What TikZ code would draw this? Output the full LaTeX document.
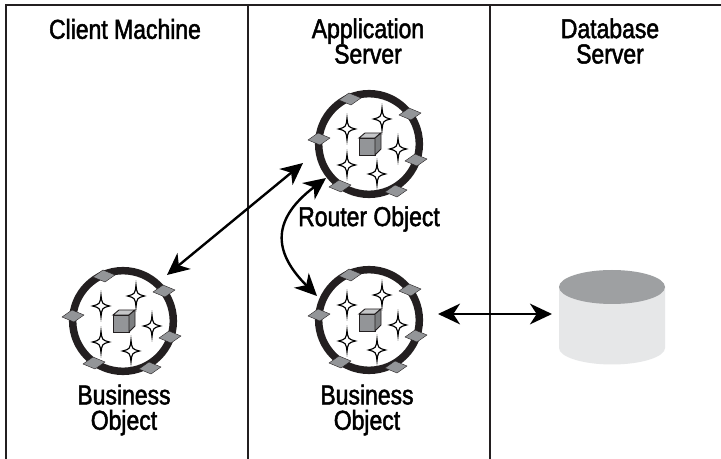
\documentclass[tikz,border=0pt]{standalone}
\usepackage{fontspec}
\setmainfont[FakeStretch=0.84,FakeBold=1.8]{Liberation Sans}
\usetikzlibrary{arrows.meta}
\definecolor{ringc}{HTML}{231F20}
\definecolor{dgrey}{HTML}{939598}
\definecolor{lgrey}{HTML}{E6E7E8}
\tikzset{
  x=0.75pt,y=-0.75pt,
  frameline/.style={draw=ringc,line width=1.5pt},
  lbl/.style={font=\fontsize{20.5}{19}\selectfont,align=center,text=black,inner sep=0pt},
  link/.style={draw=black,line width=1.8pt,{Stealth[length=16.5pt,width=15.5pt,inset=5pt]}-{Stealth[length=16.5pt,width=15.5pt,inset=5pt]}},
  objring/.style={circle,draw=ringc,line width=5.6pt,minimum size=75.5pt,inner sep=0pt,fill=white},
  port/.style={fill=dgrey,draw=ringc,line width=0.3pt},
  spark/.style={fill=white,draw=black,line width=0.85pt,line join=miter},
  objpic/.pic={
    \node[objring] (-ring) at (0,0) {};
    \foreach \a/\b in {-19/-45,41/-30,47/16,27/47,-29/42,-50/-5}{
      \path[port] (\a-11,\b+1) -- (\a-1,\b-6) -- (\a+11,\b-1) -- (\a+1,\b+6) -- cycle;
    }
    \foreach \a/\b in {-22/-15,13/-25,29/5,-22/21,8/30}{
      \path[spark] (\a,\b-11) .. controls (\a+1,\b-2) .. (\a+8.5,\b) .. controls (\a+1,\b+2) .. (\a,\b+11)
        .. controls (\a-1,\b+2) .. (\a-8.5,\b) .. controls (\a-1,\b-2) .. cycle;
    }
    \path[fill=dgrey,draw=ringc,line width=0.7pt] (-10,-6) rectangle (6,11);
    \path[fill=lgrey!60!dgrey,draw=ringc,line width=0.7pt] (-10,-6) -- (-4,-11) -- (12,-11) -- (6,-6) -- cycle;
    \path[fill=dgrey!85!black,draw=ringc,line width=0.7pt] (6,-6) -- (12,-11) -- (12,5) -- (6,11) -- cycle;
  }
}
\begin{document}
\begin{tikzpicture}
\useasboundingbox (0,0) rectangle (721,459);
\path[fill=white] (0,0) rectangle (721,459);
\draw[frameline] (6,459) -- (6,5) -- (721,5);
\draw[frameline] (248,5) -- (248,459);
\draw[frameline] (490,5) -- (490,459);

\node[lbl] (client) at (125,29) {Client Machine};
\node[lbl] (app) at (368,41) {Application\\Server};
\node[lbl] (db) at (610,41) {Database\\Server};

\pic (top) at (369,144) {objpic};
\pic (bot) at (369,320) {objpic};
\pic (left) at (123,321) {objpic};

\node[lbl] (routerlbl) at (369,219) {Router Object};
\node[lbl] (bizb) at (367,410) {Business\\Object};
\node[lbl] (bizl) at (124,410) {Business\\Object};

% database cylinder
\path[fill=lgrey] (559,287) -- (559,348) .. controls (559,357) and (583,364.5) .. (612,364.5) .. controls (641,364.5) and (665,357) .. (665,348) -- (665,287) -- cycle;
\path[fill=dgrey!90!white] (612,287) ellipse[x radius=53,y radius=17];
\coordinate (cyl) at (552,314);

\coordinate (a1) at (303,163);
\coordinate (a2) at (167,275);
\coordinate (c1) at (326,178);
\coordinate (c2) at (317,296);
\coordinate (h1) at (438,314);

\draw[link] (a2) -- (a1);
\draw[link] (c1) .. controls (268,222) and (276,255) .. (c2);
\draw[link] (h1) -- (cyl);
\end{tikzpicture}
\end{document}
